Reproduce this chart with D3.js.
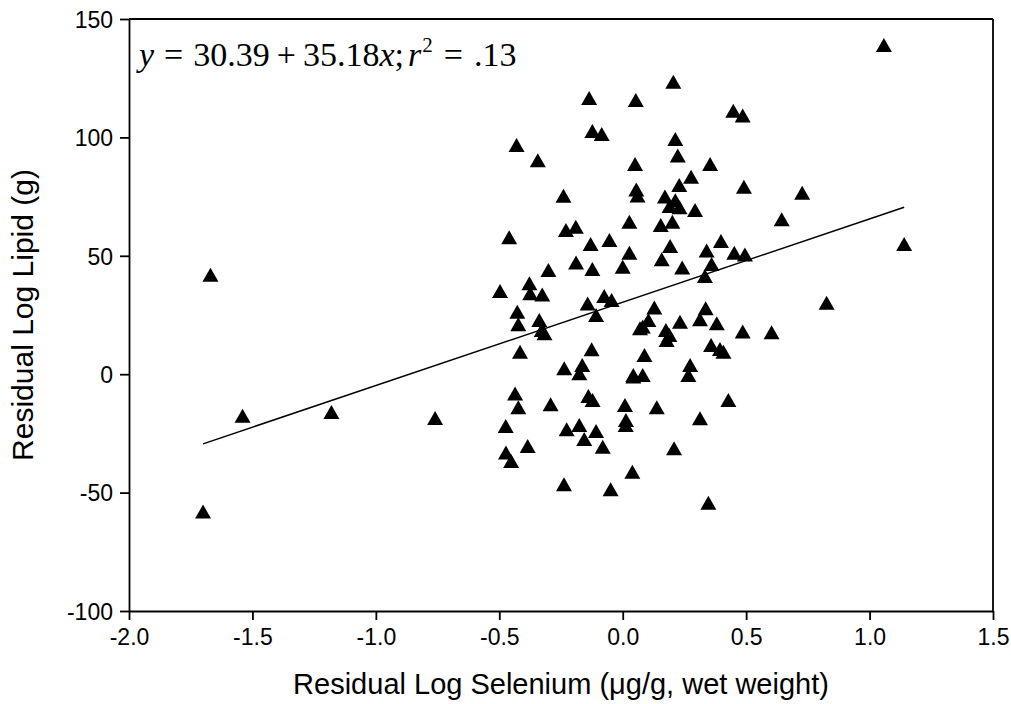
<!DOCTYPE html>
<html><head><meta charset="utf-8">
<script src="https://cdn.jsdelivr.net/npm/d3@7"></script>
<style>body{margin:0;background:#fff}svg{display:block}</style>
</head><body>
<svg id="c" width="1011" height="704"></svg>
<script>
const xTicks = [-2.0,-1.5,-1.0,-0.5,0.0,0.5,1.0,1.5];
const yTicks = [-100,-50,0,50,100,150];
const seleniumX = [
 -1.67,-1.54,-1.18,-0.76,-1.70,
 -0.136,0.053,-0.123,-0.085,-0.43,-0.344,0.05,-0.24,0.027,-0.23,-0.19,-0.46,
 0.205,0.448,0.486,0.213,0.223,0.354,0.277,0.229,0.491,0.727,0.055,0.06,
 0.171,0.213,0.19,0.23,0.293,0.644,0.154,0.201,
 -0.13,-0.054,0.027,-0.189,-0.123,0.0,-0.301,-0.497,-0.378,-0.375,-0.326,
 -0.427,-0.423,-0.338,-0.328,-0.317,-0.142,-0.075,-0.045,-0.108,-0.416,-0.126,
 -0.237,-0.164,-0.176,0.043,0.07,
 0.192,0.158,0.241,0.398,0.34,0.452,0.495,0.36,0.333,0.826,0.128,0.336,0.104,
 0.232,0.313,0.381,0.081,0.175,0.189,0.178,0.486,0.603,0.358,0.394,0.408,0.088,
 0.273,0.266,0.081,
 0.043,-0.436,-0.423,-0.292,-0.139,-0.122,0.009,0.013,0.012,-0.474,-0.227,-0.176,
 -0.108,-0.156,-0.081,-0.385,-0.473,-0.452,0.039,-0.238,-0.049,
 0.428,0.138,0.313,0.208,0.347,1.058,1.14
];
const lipidY = [
 42,-17.5,-16,-18.5,-58,
 116.6,115.8,102.7,101.4,96.8,90.4,88.8,75.4,64.4,60.9,62.3,57.8,
 123.5,111.3,109.2,99.3,92.4,88.8,83.4,79.9,79.2,76.6,78,75.5,
 75,73.5,71,70.5,69.3,65.4,63,64.4,
 55,56.7,51.3,47.2,44.4,45.4,44,35.1,38.4,34.2,33.7,
 26.4,21.1,22.9,18.7,17.3,29.9,33,31.3,25,9.5,10.5,
 2.5,3.9,0.4,-0.3,19.4,
 54.1,48.5,45.1,56.2,52.2,51.3,50.6,46.5,41.5,30.2,28.2,27.8,22.9,
 22.2,23.2,21.5,20.1,18.7,16.6,14.4,18.0,17.7,12.3,10.6,9.5,8.1,
 3.9,-0.3,-0.3,
 -1,-8.1,-14,-12.7,-9.2,-10.9,-13,-19.3,-21.5,-21.9,-23.3,-21.5,
 -24,-27.4,-30.6,-30.3,-33.1,-36.7,-41.2,-46.5,-48.6,
 -10.9,-14,-18.6,-31.3,-54.3,139,55
];
const intercept = 30.39, slope = 35.18;
const fitRange = [-1.70, 1.14];

const svg = d3.select("#c");
const L=129, R=993, T=19, B=611;
const x = d3.scaleLinear().domain([-2,1.5]).range([L,R]);
const y = d3.scaleLinear().domain([-100,150]).range([B,T]);
const fmtX = d => d3.format(".1f")(d).replace("\u2212","-");
const fmtY = d => String(d);
const sans = "'Liberation Sans', Arial, sans-serif";

const gx = svg.append("g").attr("transform",`translate(0,${B})`)
  .call(d3.axisBottom(x).tickValues(xTicks).tickFormat(fmtX).tickSize(9).tickSizeOuter(0));
const gy = svg.append("g").attr("transform",`translate(${L},0)`)
  .call(d3.axisLeft(y).tickValues(yTicks).tickFormat(fmtY).tickSize(9).tickSizeOuter(0));
[gx,gy].forEach(g=>{
  g.selectAll("path,line").attr("stroke","#000").attr("stroke-width",1.8);
  g.selectAll("text").attr("fill","#000").style("font-family",sans).style("font-size","23px");
});
gx.selectAll("text").attr("y",34).attr("dy",0);
gy.selectAll("text").attr("x",-16).attr("dy","0.36em");
// frame top & right
svg.append("line").attr("x1",L).attr("x2",R).attr("y1",T).attr("y2",T).attr("stroke","#000").attr("stroke-width",1.8);
svg.append("line").attr("x1",R).attr("x2",R).attr("y1",T).attr("y2",B).attr("stroke","#000").attr("stroke-width",1.8);

// regression line
svg.append("line")
  .attr("x1",x(fitRange[0])).attr("y1",y(intercept+slope*fitRange[0]))
  .attr("x2",x(fitRange[1])).attr("y2",y(intercept+slope*fitRange[1]))
  .attr("stroke","#000").attr("stroke-width",1.5);

// points
const tri = "M0,-7L8,7L-8,7Z";
svg.append("g").selectAll("path").data(seleniumX.map((v,i)=>[v,lipidY[i]])).join("path")
  .attr("d",tri).attr("transform",d=>`translate(${x(d[0])},${y(d[1])})`).attr("fill","#000");

// axis titles
svg.append("text").attr("x",(L+R)/2).attr("y",694).attr("text-anchor","middle")
  .style("font-family",sans).style("font-size","29px")
  .text("Residual Log Selenium (\u03bcg/g, wet weight)");
svg.append("text").attr("transform",`translate(33,${(T+B)/2}) rotate(-90)`).attr("text-anchor","middle")
  .style("font-family",sans).style("font-size","30px")
  .text("Residual Log Lipid (g)");

// equation
const eq = svg.append("text").attr("x",139).attr("y",66)
  .style("font-family","'Liberation Serif', 'Times New Roman', serif").style("font-size","34px").attr("fill","#000");
eq.append("tspan").style("font-style","italic").text("y");
eq.append("tspan").attr("dx",10).text("=");
eq.append("tspan").attr("dx",10).text("30.39");
eq.append("tspan").attr("dx",7).text("+");
eq.append("tspan").attr("dx",7).text("35.18");
eq.append("tspan").style("font-style","italic").text("x");
eq.append("tspan").text(";");
eq.append("tspan").attr("dx",4).style("font-style","italic").text("r");
eq.append("tspan").attr("dy",-14).attr("dx",1).style("font-size","21px").text("2");
eq.append("tspan").attr("dy",14).attr("dx",11).text("=");
eq.append("tspan").attr("dx",11).text(".13");
</script>
</body></html>
